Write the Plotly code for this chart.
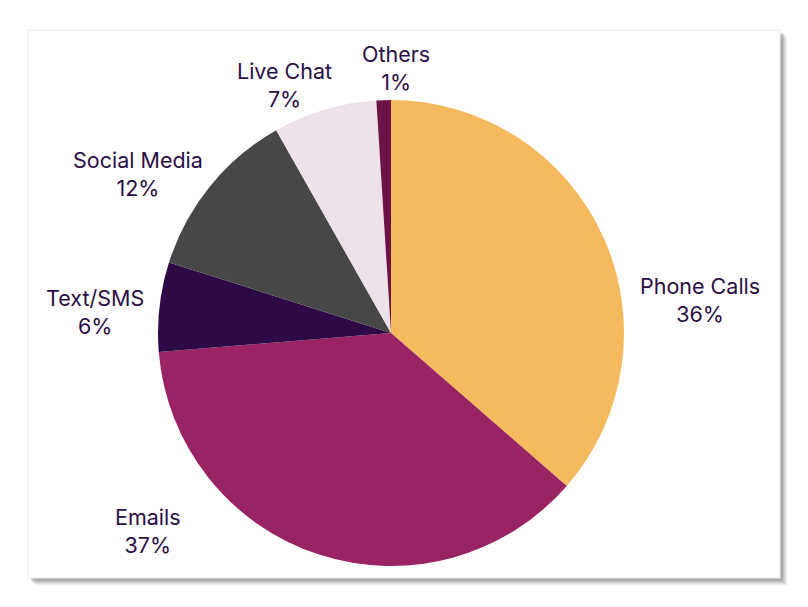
import plotly.graph_objects as go

labels = ["Phone Calls", "Emails", "Text/SMS", "Social Media", "Live Chat", "Others"]
values = [36.4, 37.3, 6.2, 11.9, 7.2, 1.0]
colors = ["#F5BA5E", "#9A2463", "#2D0A45", "#474747", "#EDE1EA", "#6B1445"]

# label block centres (screen pixels), layout only
label_pos = [(700, 300), (148, 531), (95, 312), (138, 174), (284, 85), (396, 68)]

W, H = 808, 607
OFF = 8  # page body margin
def px(x): return (x - OFF) / W
def py(y): return 1 - (y - OFF) / H

fig = go.Figure()
fig.add_trace(go.Pie(
    labels=labels, values=values, sort=False, direction="clockwise", rotation=0,
    marker=dict(colors=colors, line=dict(width=0)),
    textinfo="none",
    domain=dict(x=[px(158), px(624)], y=[py(566), py(100)]),
    showlegend=False, hoverinfo="label+percent",
))

total = sum(values)
annotations = []
for lab, v, (x, y) in zip(labels, values, label_pos):
    annotations.append(dict(
        x=px(x), y=py(y), xref="paper", yref="paper", xanchor="center", yanchor="middle",
        text=f"{lab}<br>{round(100 * v / total)}%", showarrow=False, align="center",
        font=dict(family="Inter, sans-serif", size=21.5, color="#2B0E45"),
    ))

shapes = []
for off, op in [(8, 0.04), (7, 0.07), (6, 0.10), (5, 0.14), (4, 0.18), (3, 0.22)]:
    shapes.append(dict(type="rect", xref="paper", yref="paper",
                       x0=px(28 + off), x1=px(780 + off), y0=py(578 + off), y1=py(30 + off),
                       fillcolor=f"rgba(110,110,110,{op})", line=dict(width=0), layer="below"))
shapes.append(dict(type="rect", xref="paper", yref="paper",
                   x0=px(28), x1=px(780), y0=py(578), y1=py(30),
                   fillcolor="white", line=dict(color="#EAEAEA", width=1), layer="below"))

fig.update_layout(
    width=W, height=H, margin=dict(l=0, r=0, t=0, b=0),
    paper_bgcolor="white", plot_bgcolor="white", shapes=shapes, annotations=annotations,
)
fig.write_html("out.html")
